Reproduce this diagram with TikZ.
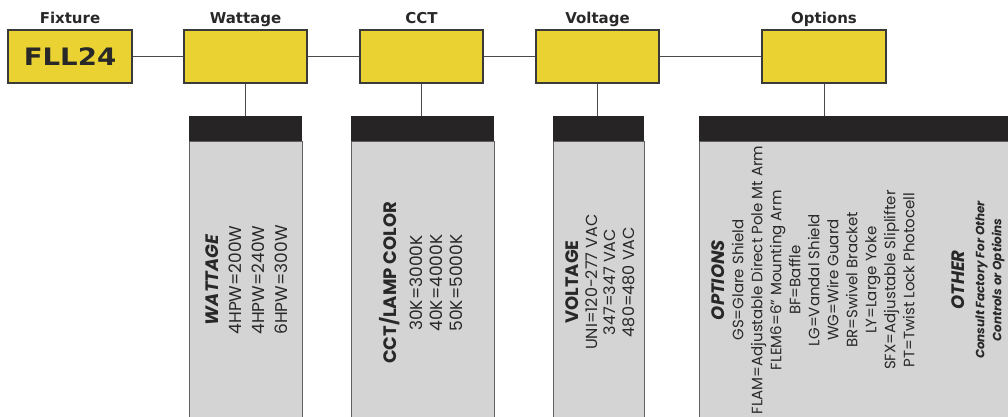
\documentclass[tikz,border=0pt]{standalone}
\usepackage{fontspec}
\setmainfont{Poppins}
\newfontfamily\blackfont{DejaVu Sans}
\definecolor{fieldyellow}{RGB}{233,210,50}
\definecolor{boxline}{RGB}{58,58,58}
\definecolor{headblack}{RGB}{38,36,36}
\definecolor{panelgrey}{RGB}{212,212,212}
\definecolor{panelline}{RGB}{96,96,96}
\definecolor{linkgrey}{RGB}{74,74,74}
\definecolor{inkgrey}{RGB}{40,40,40}
\begin{document}
\begin{tikzpicture}[x=1pt, y=-1pt,
  fieldbox/.style={draw=boxline, fill=fieldyellow, line width=1.2pt,
    minimum width=123pt, minimum height=53pt, inner sep=0pt},
  headbar/.style={fill=headblack, minimum height=25pt, inner sep=0pt},
  panel/.style={fill=panelgrey, draw=panelline, line width=1pt,
    anchor=north, minimum height=290pt, inner sep=0pt},
  fieldtitle/.style={font=\blackfont\bfseries\fontsize{15}{18}\selectfont,
    text=inkgrey, anchor=base},
  link/.style={draw=linkgrey, line width=1pt},
  column/.style={rotate=90, align=center, text=inkgrey}]
  \useasboundingbox (0,0) rectangle (1008,417);
  % Code boxes
  \node[fieldbox, minimum width=124pt,
    font=\blackfont\bfseries\fontsize{24}{24}\selectfont, text=inkgrey]
    (fix) at (70,56.5) {\scalebox{1.15}[1]{FLL24}};
  \node[fieldbox] (watt) at (245.5,56.5) {};
  \node[fieldbox] (cct) at (421.5,56.5) {};
  \node[fieldbox] (volt) at (597.5,56.5) {};
  \node[fieldbox, minimum width=124pt] (opt) at (824,56.5) {};
  % Titles
  \node[fieldtitle] (fixTitle) at (70,24) {Fixture};
  \node[fieldtitle] (wattTitle) at (245.5,24) {Wattage};
  \node[fieldtitle] (cctTitle) at (421.5,24) {CCT};
  \node[fieldtitle] (voltTitle) at (597.5,24) {Voltage};
  \node[fieldtitle] (optTitle) at (824,24) {Options};
  % Chain
  \draw[link] (fix.east) -- (watt.west);
  \draw[link] (watt.east) -- (cct.west);
  \draw[link] (cct.east) -- (volt.west);
  \draw[link] (volt.east) -- (opt.west);
  % Headers and panels
  \node[headbar, minimum width=113pt] (wattHead) at (245.5,128.5) {};
  \node[headbar, minimum width=143pt] (cctHead) at (422.5,128.5) {};
  \node[headbar, minimum width=91pt] (voltHead) at (598.5,128.5) {};
  \node[headbar, minimum width=313pt] (optHead) at (855.5,128.5) {};
  \node[panel, minimum width=113pt] (wattPanel) at (wattHead.south) {};
  \node[panel, minimum width=143pt] (cctPanel) at (cctHead.south) {};
  \node[panel, minimum width=91pt] (voltPanel) at (voltHead.south) {};
  \node[panel, minimum width=313pt] (optPanel) at (optHead.south) {};
  \node[headbar, minimum width=113pt] at (wattHead) {};
  \node[headbar, minimum width=143pt] at (cctHead) {};
  \node[headbar, minimum width=91pt] at (voltHead) {};
  \node[headbar, minimum width=313pt] at (optHead) {};
  % Drops
  \draw[link] (watt.south) -- (watt.south |- wattHead.north);
  \draw[link] (cct.south) -- (cct.south |- cctHead.north);
  \draw[link] (volt.south) -- (volt.south |- voltHead.north);
  \draw[link] (opt.south) -- (opt.south |- optHead.north);
  % Column texts
  \node[column, font=\fontsize{17}{23}\selectfont] (wattText) at (247,280)
    {{\bfseries\itshape\fontsize{18}{23}\selectfont WATTAGE}\\
     4HPW=200W\\ 4HPW=240W\\ 6HPW=300W};
  \node[column, font=\fontsize{17}{20}\selectfont] (cctText) at (421,283)
    {{\bfseries\fontsize{18}{20}\selectfont CCT/LAMP COLOR}\\[6pt]
     30K=3000K\\ 40K=4000K\\ 50K=5000K};
  \node[column, font=\fontsize{16}{18.5}\selectfont] (voltText) at (600,282)
    {{\bfseries\fontsize{18}{18.5}\selectfont VOLTAGE}\\
     UNI=120-277 VAC\\ 347=347 VAC\\ 480=480 VAC};
  \node[column, font=\fontsize{15}{19}\selectfont] (optText) at (813,280)
    {{\bfseries\itshape\fontsize{18}{19}\selectfont OPTIONS}\\
     GS=Glare Shield\\ FLAM=Adjustable Direct Pole Mt Arm\\
     FLEM6=6” Mounting Arm\\ BF=Baffle\\ LG=Vandal Shield\\
     WG=Wire Guard\\ BR=Swivel Bracket\\ LY=Large Yoke\\
     SFX=Adjustable Sliplifter\\ PT=Twist Lock Photocell};
  \node[column, font=\bfseries\itshape\fontsize{12}{17}\selectfont] (otherText) at (978,280)
    {{\fontsize{18}{17}\selectfont OTHER}\\[3pt]
     Consult Factory For Other\\ Controls or Optioins};
\end{tikzpicture}
\end{document}
